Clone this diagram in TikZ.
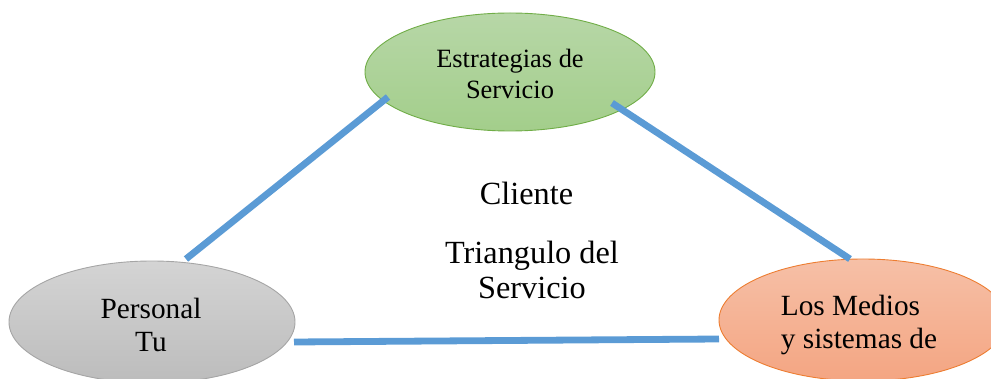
\documentclass[tikz,border=0pt]{standalone}
\usepackage{fontspec}
\setmainfont{Liberation Serif}
\usetikzlibrary{shapes.geometric,calc}
\definecolor{linkblue}{HTML}{5B9BD5}
\tikzset{
  x=1pt,y=-1pt,
  oval/.style={ellipse,inner sep=0pt,line width=0.9pt,shade,shading angle=0},
  greenoval/.style={oval,draw={rgb,255:red,112;green,173;blue,71},top color={rgb,255:red,183;green,215;blue,167},bottom color={rgb,255:red,163;green,206;blue,139},minimum width=290pt,minimum height=118pt},
  greyoval/.style={oval,draw={rgb,255:red,165;green,165;blue,165},top color={rgb,255:red,212;green,212;blue,212},bottom color={rgb,255:red,188;green,188;blue,188},minimum width=286pt,minimum height=122pt},
  orangeoval/.style={oval,draw={rgb,255:red,237;green,125;blue,49},top color={rgb,255:red,246;green,192;blue,167},bottom color={rgb,255:red,244;green,165;blue,130},minimum width=288pt,minimum height=122pt},
  link/.style={draw=linkblue,line width=6.8pt},
  smalltext/.style={align=center,font=\fontsize{26.4}{31.5}\selectfont,inner sep=0pt},
  midtext/.style={align=center,font=\fontsize{29.3}{33.5}\selectfont,inner sep=0pt},
  bigtext/.style={align=center,font=\fontsize{32.3}{35}\selectfont,inner sep=0pt},
}
\begin{document}
\begin{tikzpicture}
\useasboundingbox (0,0) rectangle (991,379);
\clip (0,0) rectangle (991,379);
\node[greenoval] (strat) at (510,72) {};
\node[greyoval] (pers) at (152,322) {};
\node[orangeoval] (medios) at (863,320) {};
\node[smalltext] (stext) at (510,74) {Estrategias de\\Servicio};
\node[midtext] (ptext) at (151,325) {Personal\\Tu};
\node[midtext,align=left] (mtext) at (859,325) {Los Medios\\y sistemas de};
\node[bigtext] (ctext) at (526.5,193) {Cliente};
\node[bigtext] (ttext) at (532,270) {Triangulo del\\Servicio};
\draw[link] ($(strat.center)+(-122,25)$) -- ($(pers.center)+(34,-63)$);
\draw[link] ($(strat.center)+(102,31)$) -- ($(medios.center)+(-13,-61)$);
\draw[link] ($(pers.center)+(142,20)$) -- ($(medios.center)+(-144,19)$);
\end{tikzpicture}
\end{document}
